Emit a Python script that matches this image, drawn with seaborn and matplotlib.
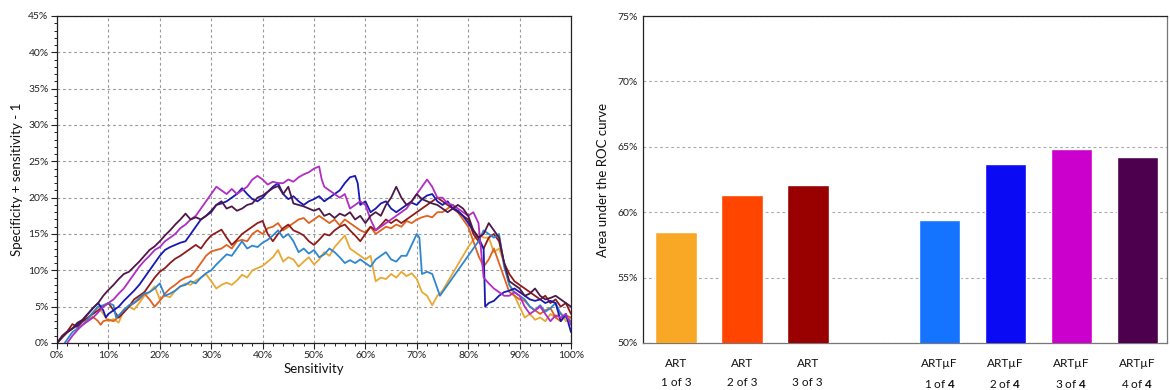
import numpy as np
import pandas as pd
import matplotlib
matplotlib.use("Agg")
import matplotlib.pyplot as plt
import seaborn as sns
from matplotlib.ticker import MultipleLocator, FuncFormatter

# ---------------- data: left panel (Youden curves) ----------------
art1_x = [0,1,2,3,4,5,6,7,8,9,10,11,12,13,14,15,16,17,18,19,20,21,22,23,24,25,26,27,28,29,30,31,32,33,34,35,36,37,38,39,40,41,42,43,44,45,46,47,48,49,50,51,52,53,54,55,56,57,58,59,60,61,62,63,64,65,66,67,68,69,70,71,72,73,74,75,76,77,78,79,80,81,82,83,84,85,86,87,88,89,90,91,92,93,94,95,96,97,98,99,100]
art1_y = [0,0.8,1.5,2,2.3,3,3.5,4.2,5,4,3,3.3,2.8,4.5,5,4.6,5.5,6.5,7,7.8,6,6.5,6.3,7.2,7.8,8.2,8,8.6,9,9.5,8.5,7.5,8,8.3,8,8.6,9.4,9,10,10.3,10.6,11.2,11.8,12.8,11.2,11.8,11.5,10.5,11.2,11.8,10.8,11.5,12.5,12,13.2,14,14.8,13,12.5,12,11.5,12,8.5,9,8.8,9.5,9,9.8,9.2,9.6,8.8,7,6.5,5.2,6.5,7.2,8.4,9.6,10.8,12,13.2,14.2,15,14.5,14.5,12.5,13,11,8,6.5,5,3.5,4,3.2,3.5,3,4,3.5,4.2,3,3.5]

art2_x = [0,1,2,3,4,5,6,7,8,8.5,9,10,11,12,13,14,15,16,17,18,19,20,21,22,23,24,25,26,27,28,29,30,31,32,33,34,35,36,37,38,39,40,41,42,43,44,45,46,47,48,49,50,51,52,53,54,55,56,57,58,59,60,61,62,63,64,65,66,67,68,69,70,71,72,73,74,75,76,77,78,79,80,81,82,83,84,85,86,87,88,89,90,91,92,93,94,95,96,97,98,99,100]
art2_y = [0,0.8,1.5,2,2.5,3,3.2,3.6,3,2.5,3,3.2,3,3.6,4.6,5,5.5,6,6.8,6,5,5.8,6.8,7.5,8,8.6,9,9.2,10,11,12,12.6,12.8,13,13.5,13,14,14.2,14,15,15.5,15,15.8,16,16.5,15.5,16,16.5,17,17.2,16.5,17,17.5,17,16.5,17,16.2,17,16.5,16,15.5,15.2,16,15,15.5,16,15.8,16.3,16,16.8,16.5,17,17.3,17.5,17.3,18,18,18.5,19,18,17,16,14,12,10.5,11.5,13,11,9,7,6.5,6,5.8,5,4.5,4,4.5,4.8,3.5,3,3.8,3.5]

art3_x = list(range(0, 101))
art3_y = [0,1,1.6,2.6,2.2,3,3.5,4,4.5,5,5.5,4.5,3.5,4.2,5,6,6.5,7,8,9,9.8,10.3,11,11.6,12,12.5,13,13.5,13,14,14.8,15.2,15.6,14.5,13.5,14.2,15,15.5,16,16.5,16.8,15,14,15,15.8,16.3,15.5,15.2,14.8,14,13.5,14.2,15,14.8,15.5,16,16.3,15.5,14.8,14,15,16,15.5,16.2,17,16.5,17,16.5,17,17.5,18,18.5,19,19.5,20,19.5,19,18.5,18,17.5,17,15,14,13,14.5,15,14,11,9.5,8.5,8,7.5,7,6.5,6,6.5,5.5,6,5,5.5,4]

muf1_x = [1.5,2,3,4,5,6,7,8,9,10,11,11.5,12,13,14,15,16,17,18,19,20,21,22,23,24,25,26,27,28,29,30,31,32,33,34,35,36,37,38,39,40,41,42,43,44,45,46,47,48,49,50,51,52,53,54,55,56,57,58,59,60,61,62,63,64,65,66,67,68,69,70,70.5,71,72,73,74.5,76,78,80,82,83,84,85,86,87,88,89,90,91,92,93,94,95,96,97,98,99,100]
muf1_y = [0,0.5,1.5,2,2.5,3.3,4.2,5,5.2,5.5,5.2,3.5,3.8,4.5,5.2,5.5,6.2,6.8,7,7.5,8.2,6.5,6.8,7.2,7.8,8,8.5,8.2,9,9.6,10,10.8,11.5,12.2,12,13,14,13,13.4,13.2,13.8,14.2,14.8,15.5,14.5,15,14,12.5,13,12.3,12.8,11.8,12.2,13,12.5,11.8,11,11.4,11,11.5,11,10.5,11.5,12,12.5,11.5,11.2,12,12,13.5,15,14.5,9.5,9.8,9.5,6.5,8,10,12,14,15.5,15,14.5,15,10.5,8,7,6.5,6,5,4.5,5.2,4.3,4.8,5.5,4,3.5,3]

muf2_x = [0,1,2,3,4,5,6,7,8,9,9.5,10,11,12,13,14,15,16,17,18,19,20,21,22,23,24,25,26,27,28,29,30,31,32,33,34,35,36,37,38,39,40,41,42,43,44,45,46,47,48,49,50,51,52,53,54,55,56,57,58,58.5,59,60,61,62,63,64,65,66,67,68,69,70,71,72,73,74,75,76,77,78,79,80,81,82,83,83.3,84,85,86,87,88,89,90,91,92,93,94,95,96,97,98,99,100]
muf2_y = [0,0.8,1.5,2,2.5,3.2,4,4.8,5.5,4.5,3.5,4,4.5,5,5.8,6.5,7.2,8,9,10,11,12,12.8,13.2,13.5,13.8,14,15,16,17,17.5,18,19,19.2,19.5,20,20.5,21.3,20.5,19.8,19.5,20,20.8,21.5,22,20.5,19.8,20.2,19.5,19,19.5,19.8,20.2,19.5,20,20.5,21,22,22.8,23,22,19,19.5,18,18.5,19.2,19.5,18.5,18,18.5,19,19.3,19,19.8,20.3,20.5,19.5,19,19.5,18.5,18.2,17.5,16.5,15.5,14.5,13,5,5.5,5.8,6.5,7,7.2,7.5,7,6.5,6,5.8,6,5.5,5.8,5.5,3,4,1.5]

muf3_x = [2,3,4,5,6,7,8,9,10,11,12,13,14,15,16,17,18,19,20,21,22,23,24,25,26,27,28,29,30,31,32,33,34,35,36,37,38,39,40,41,42,43,44,45,46,47,48,49,50,51,51.5,52,53,54,55,56,57,58,59,60,61,62,63,64,65,66,67,68,69,70,71,72,73,74,75,76,77,78,79,80,81,82,83,84,85,86,87,88,89,90,91,92,93,94,95,96,97,98,99,100]
muf3_y = [0,1,1.8,2.5,3,3.5,4.2,5,5.5,6,6.8,7.5,8.5,9.5,10.5,11.3,12,12.8,13.2,14,14.5,15,15.8,16.3,17,17.5,18.5,19.5,20.5,21.5,21,20.5,21.2,20.5,21,21.5,22.5,23,22.5,21.8,22.2,22,22,22.5,22.2,22.8,23.2,23.5,24,24.3,22.5,21.5,21,20.5,20,20.5,18.5,19,19.5,19,17,15.5,16,16.5,17,17.5,18,18.5,19.5,20.5,21.5,22.5,21.5,20,20,19.2,19,18.5,18,17.5,18,16.5,9,8.2,7.5,7,6.5,6.5,7,6.5,5,4,4.5,5,4,3,3.8,3.5,4,2.5]

muf4_x = list(range(0, 101))
muf4_y = [0,0.8,1.5,2,2.8,3.2,4,4.8,5.5,6.5,7.3,8,8.8,9.5,9.8,10.5,11.2,12,12.8,13.3,14,14.8,15.5,16.3,17,17.8,17,17.3,17,17.5,18.2,19,19.5,18.5,18.8,18.2,18.5,19,19.2,20,20.3,20.8,21.3,21.6,20.5,21.5,19.2,19,18.8,18.5,18.2,18.5,17.5,17.8,17.2,17.8,17.5,18,17,17.5,16.5,17.5,18,17.5,19,20,21.5,20,19,19.5,20.5,19.8,19.5,19.2,19,18.5,18,18.5,19,18.5,17.5,15.5,14.5,15,16.5,15.5,14.5,11,8.5,8,7.5,6.5,6.8,7.5,6.5,6,6.2,6.5,6,5.5,5]

series_names = ["ART 1 of 3", "ART 2 of 3", "ART 3 of 3",
                "ARTµF 1 of 4", "ARTµF 2 of 4", "ARTµF 3 of 4", "ARTµF 4 of 4"]
line_colors = ["#E8A833", "#E0621E", "#8E1C1C", "#2F86D0", "#1818B2", "#B02EC2", "#4C1848"]

# ---------------- data: right panel (AUC bars) ----------------
bar_labels = ["ART\n1 of 3", "ART\n2 of 3", "ART\n3 of 3", "",
              "ARTµF\n1 of $\\mathbf{4}$", "ARTµF\n2 of $\\mathbf{4}$",
              "ARTµF\n3 of $\\mathbf{4}$", "ARTµF\n4 of $\\mathbf{4}$"]
bar_keys = ["a1", "a2", "a3", "gap", "m1", "m2", "m3", "m4"]
auc_values = [58.5, 61.3, 62.1, 59.4, 63.7, 64.8, 64.2]
bar_colors = ["#F9A825", "#FF4500", "#990000", "#1474FF", "#0A0AF5", "#CC00CC", "#4D004D"]

# ---------------- style ----------------
sns.set_style("white")
plt.rcParams["font.family"] = ["Lato", "DejaVu Sans"]
plt.rcParams["mathtext.fontset"] = "custom"
plt.rcParams["mathtext.bf"] = "Lato:bold"
plt.rcParams["mathtext.rm"] = "Lato"

fig = plt.figure(figsize=(11.7, 3.9), dpi=100)
ax1 = fig.add_axes([57/1170, 47/390, 514/1170, 327/390])
ax2 = fig.add_axes([643/1170, 47/390, 524/1170, 327/390])

# ---------------- left panel ----------------
xs = [art1_x, art2_x, art3_x, muf1_x, muf2_x, muf3_x, muf4_x]
ys = [art1_y, art2_y, art3_y, muf1_y, muf2_y, muf3_y, muf4_y]
frames = []
for name, x, y in zip(series_names, xs, ys):
    frames.append(pd.DataFrame({"sens": np.array(x) / 100.0,
                                "youden": np.array(y) / 100.0,
                                "series": name}))
df = pd.concat(frames, ignore_index=True)
sns.lineplot(data=df, x="sens", y="youden", hue="series", units="series",
             estimator=None, sort=False, palette=dict(zip(series_names, line_colors)),
             linewidth=1.3, legend=False, ax=ax1)

ax1.set_xlim(0, 1)
ax1.set_ylim(0, 0.45)
ax1.xaxis.set_major_locator(MultipleLocator(0.1))
ax1.xaxis.set_minor_locator(MultipleLocator(0.02))
ax1.yaxis.set_major_locator(MultipleLocator(0.05))
ax1.yaxis.set_minor_locator(MultipleLocator(0.01))
pct = FuncFormatter(lambda v, p: f"{v*100:.0f}%")
ax1.xaxis.set_major_formatter(pct)
ax1.yaxis.set_major_formatter(pct)
ax1.grid(True, which="major", color="#9A9A9A", linestyle=(0, (2.5, 2.5)), linewidth=0.8)
ax1.tick_params(axis="both", which="major", direction="out", length=4, width=0.8,
                labelsize=7.5, colors="#222222", pad=2)
ax1.tick_params(axis="both", which="minor", direction="out", length=2.5, width=0.7, colors="#222222")
ax1.tick_params(axis="x", which="both", bottom=True)
ax1.tick_params(axis="y", which="both", left=True)
for s in ax1.spines.values():
    s.set_color("#222222")
    s.set_linewidth(0.9)
ax1.set_xlabel("Sensitivity", fontsize=9.5, labelpad=2, color="#111111")
ax1.set_ylabel("Specificity + sensitivity - 1", fontsize=9.5, labelpad=4, color="#111111")

# ---------------- right panel ----------------
bdf = pd.DataFrame({"key": [k for k in bar_keys if k != "gap"],
                    "auc": np.array(auc_values) / 100.0})
pal = dict(zip([k for k in bar_keys if k != "gap"], bar_colors))
sns.barplot(data=bdf, x="key", y="auc", hue="key", order=bar_keys, palette=pal,
            width=0.63, saturation=1, legend=False, ax=ax2, zorder=3)
ax2.set_xlim(-0.5, 7.45)
ax2.set_ylim(0.5, 0.75)
ax2.yaxis.set_major_locator(MultipleLocator(0.05))
ax2.yaxis.set_major_formatter(pct)
ax2.yaxis.grid(True, color="#AAAAAA", linestyle=(0, (2.5, 2.5)), linewidth=0.8, zorder=0)
ax2.xaxis.grid(False)
ax2.set_axisbelow(True)
ax2.set_xticks(range(len(bar_labels)))
ax2.set_xticklabels(bar_labels, linespacing=1.9)
ax2.tick_params(axis="x", length=0, labelsize=8.5, pad=11, colors="#111111")
ax2.tick_params(axis="y", length=0, labelsize=7.5, pad=4, colors="#222222")
for side, s in ax2.spines.items():
    s.set_linewidth(0.9)
    s.set_color("#222222" if side in ("left", "top") else "#777777")
ax2.set_xlabel("")
ax2.set_ylabel("Area under the ROC curve", fontsize=9.5, labelpad=6, color="#111111")

fig.savefig("out.png", dpi=100)
